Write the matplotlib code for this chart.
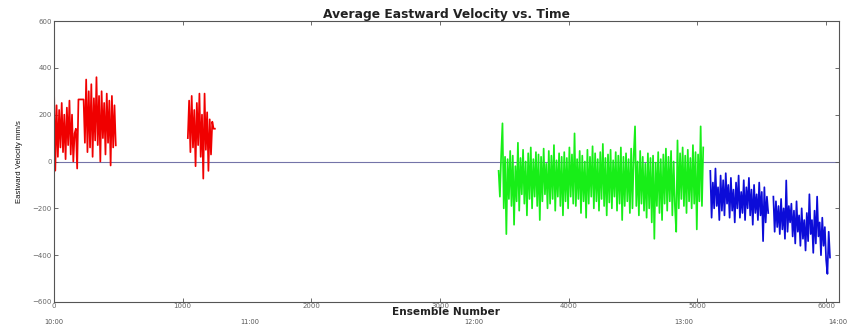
import numpy as np
import matplotlib
matplotlib.use("Agg")
import matplotlib.pyplot as plt
import matplotlib.transforms as mtransforms
from matplotlib import font_manager

# ---------------- data ----------------
step = 10  # ensembles between successive sampled readings

red1_start = 0
red1 = [317, -39, 240, 20, 220, 60, 250, 40, 200, 10,
        230, 70, 260, 30, 200, 0, 120, 140, -30, 265,
        265, 265, 265, 265, 80, 350, 40, 300, 60, 330,
        20, 270, 90, 360, 70, 280, 0, 300, 100, 250,
        30, 290, 80, 260, -17, 280, 60, 240, 69]

red2_start = 1040
red2 = [100, 260, 40, 280, 60, 220, -20, 250, 70, 290,
        20, 200, -73, 290, 50, 210, -40, 180, 30, 170,
        140, 140]

green_start = 3455
green = [-40, -150, 30, 163, -200, 20, -310, 10, -160, 45,
         -190, 25, -270, -20, -170, 80, -210, 15, -140, 50,
         -180, 0, -230, 35, -160, 60, -200, 10, -150, 40,
         -190, 30, -250, 20, -170, 55, -140, -10, -200, 45,
         -180, 25, -160, 70, -210, 5, -150, 35, -190, 20,
         -230, 40, -170, 15, -200, 60, -150, 30, -180, 120,
         -190, 10, -160, 45, -220, 25, -170, 0, -240, 50,
         -180, 20, -150, 65, -200, 35, -170, 10, -210, 40,
         -160, 75, -190, 15, -230, 30, -175, 50, -200, 5,
         -150, 40, -210, 25, -180, 60, -250, 20, -190, 35,
         -170, 10, -220, 55, -200, 30, 150, -190, 0, -230,
         45, -180, 20, -210, -10, -240, 35, -200, 15, -260,
         25, -330, -5, -190, 40, -220, 10, -250, 30, -180,
         55, -210, 20, -170, 45, -230, 0, -190, -300, 90,
         -200, 35, -160, 60, -190, 25, -220, 50, -170, 15,
         -200, 70, -180, 40, -290, 30, -170, 150, -190, 60]

blue1_start = 5100
blue1 = [-40, -240, -90, -200, -30, -190, -110, -250, -60, -210,
         -80, -230, -50, -180, -100, -240, -70, -210, -120, -260,
         -90, -200, -60, -240, -130, -220, -80, -250, -110, -200,
         -70, -230, -120, -270, -100, -220, -140, -250, -90, -230,
         -130, -340, -110, -260, -150, -220]

blue2_start = 5590
blue2 = [-150, -300, -170, -280, -190, -310, -160, -290, -200, -330,
         -81, -300, -190, -260, -180, -320, -210, -350, -170, -300,
         -230, -360, -200, -330, -250, -380, -220, -340, -140, -310,
         -250, -390, -210, -350, -150, -320, -260, -400, -240, -360,
         -280, -420, -480, -300, -410]

x_ticks = [0, 1000, 2000, 3000, 4000, 5000, 6000]
y_ticks = [-600, -400, -200, 0, 200, 400, 600]
time_labels = ["10:00", "11:00", "12:00", "13:00", "14:00"]
time_positions = [0, 1520, 3260, 4890, 6090]

# ---------------- figure ----------------
fig = plt.figure(figsize=(8.52, 3.26), dpi=100)
ax = fig.add_axes([54 / 852, 1 - 302 / 326, (839 - 54) / 852, (302 - 21) / 326])

def xs(start, vals):
    return start + step * np.arange(len(vals))

lw = 1.25
ax.plot(xs(red1_start, red1), red1, color="#f00000", lw=lw)
ax.plot(xs(red2_start, red2), red2, color="#f00000", lw=lw)
ax.plot(xs(green_start, green), green, color="#18ee18", lw=lw)
ax.plot(xs(blue1_start, blue1), blue1, color="#0c0cd8", lw=lw)
ax.plot(xs(blue2_start, blue2), blue2, color="#0c0cd8", lw=lw)
ax.axhline(0, color="#7474a8", lw=0.8, zorder=0)

ax.set_xlim(0, 6100)
ax.set_ylim(-600, 600)
ax.set_xticks(x_ticks)
ax.set_yticks(y_ticks)
ax.tick_params(direction="in", length=3, width=0.6, colors="#555555",
               labelsize=5.0, labelcolor="#666666", top=True, right=True, pad=1.5)
ax.tick_params(axis="x", pad=0.5)
for s in ax.spines.values():
    s.set_color("#555555")
    s.set_linewidth(0.8)

fams = [f.name for f in font_manager.fontManager.ttflist]
narrow = "Liberation Sans Narrow" if "Liberation Sans Narrow" in fams else "Liberation Sans"

ax.set_title("Average Eastward Velocity vs. Time", fontsize=8.8, fontweight="bold",
             family="DejaVu Sans", color="#222222", pad=2)
ax.set_xlabel("Ensemble Number", fontsize=7.6, fontweight="bold",
              family="DejaVu Sans", color="#222222", labelpad=-1.0)
ax.set_ylabel("Eastward Velocity mm/s", fontsize=5.6, family=narrow,
              color="#111111", labelpad=7)

trans = mtransforms.blended_transform_factory(ax.transData, fig.transFigure)
for lab, pos in zip(time_labels, time_positions):
    ax.text(pos, 0.002, lab, transform=trans, ha="center",
            va="bottom", fontsize=4.8, color="#555555", clip_on=False)

fig.savefig("out.png", dpi=100, facecolor="white")
